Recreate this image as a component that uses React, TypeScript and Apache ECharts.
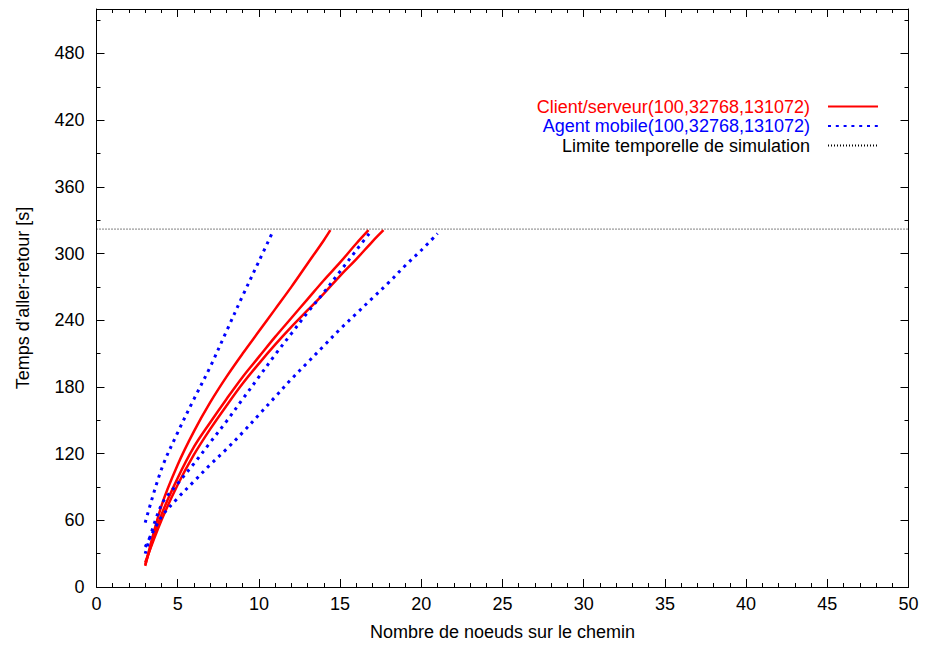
import React, { useEffect, useRef } from 'react';
import * as echarts from 'echarts';

const RED_NAME = 'Client/serveur(100,32768,131072)';
const BLUE_NAME = 'Agent mobile(100,32768,131072)';
const LIMIT_NAME = 'Limite temporelle de simulation';
const X_NAME = 'Nombre de noeuds sur le chemin';
const Y_NAME = "Temps d'aller-retour [s]";

const LIMIT = 322;

const redA: number[][] = [[3, 19], [4, 73], [5, 110], [6, 140], [7, 166], [8, 189], [9, 210], [10, 230], [11, 250], [12, 270], [13, 291], [14, 312], [14.4, 321]];
const redB: number[][] = [[3, 20], [4, 65], [5, 98], [6, 126], [7, 148], [8, 169], [9, 189], [10, 207], [11, 225], [12, 242], [13, 259], [14, 276], [15, 292], [16, 309], [16.75, 321]];
const redC: number[][] = [[3, 22], [4, 60], [5, 92], [6, 119], [7, 142], [8, 163], [9, 183], [10, 201], [11, 218], [12, 234], [13, 249], [14, 264], [15, 280], [16, 295], [17, 311], [17.67, 321]];

const blueL: number[][] = [[3, 58], [4, 106], [5, 139], [6, 169], [7, 198], [8, 230], [9, 262], [10, 293], [10.9, 321]];
const blueM: number[][] = [[3, 30], [4, 74], [5, 93], [6, 111], [7, 130], [8, 149], [9, 169], [10, 189], [11, 209], [12, 228], [13, 247], [14, 265], [15, 284], [16, 303], [16.9, 320]];
const blueR: number[][] = [[3, 36], [4, 63], [5, 80], [6, 95], [7, 110], [8, 124], [9, 139], [10, 155], [11, 171], [12, 187], [13, 202], [14, 217], [15, 232], [16, 246], [17, 260], [18, 274], [19, 289], [20, 303], [21, 318]];

const limitLine: number[][] = [[0, LIMIT], [50, LIMIT]];

export default function App() {
  const ref = useRef<HTMLDivElement>(null);
  useEffect(() => {
    const chart = echarts.init(ref.current!, null, { renderer: 'svg' });
    const font = '"Liberation Sans", Arial, Helvetica, sans-serif';
    const red = '#ff0000';
    const blue = '#0000ff';
    const black = '#000000';
    const fs = 18;

    const redLine = (data: number[][]) => ({
      type: 'line', name: RED_NAME, data, symbol: 'none', smooth: 0.35,
      lineStyle: { color: red, width: 2.5 }, itemStyle: { color: red }, z: 3,
    });
    const blueLine = (data: number[][]) => ({
      type: 'line', name: BLUE_NAME, data, symbol: 'none', smooth: 0.35,
      lineStyle: { color: blue, width: 3, type: [3, 4.8], cap: 'butt' }, itemStyle: { color: blue }, z: 4,
    });

    const tickCommon = {
      axisLine: { show: true, onZero: false, lineStyle: { color: black, width: 1 } },
      axisTick: { show: true, inside: true, length: 8, lineStyle: { color: black, width: 1 } },
      splitLine: { show: false },
    };

    chart.setOption({
      animation: false,
      backgroundColor: '#ffffff',
      grid: { left: 96.5, right: 16.5, top: 9, bottom: 58.3, containLabel: false },
      legend: {
        orient: 'vertical',
        right: 41,
        top: 92,
        align: 'right',
        itemWidth: 50,
        itemHeight: 12,
        itemGap: 0.5,
        selectedMode: false,
        itemStyle: { opacity: 0 },
        textStyle: { fontSize: fs, lineHeight: 19, fontFamily: font, padding: [0, 13, 0, 0] },
        data: [
          { name: RED_NAME, textStyle: { color: red } },
          { name: BLUE_NAME, textStyle: { color: blue } },
          { name: LIMIT_NAME, textStyle: { color: black } },
        ],
      },
      xAxis: [
        {
          type: 'value', min: 0, max: 50, interval: 5, position: 'bottom',
          ...tickCommon,
          minorTick: { show: true, splitNumber: 5, length: 4, lineStyle: { color: black, width: 1 } },
          axisLabel: { color: black, fontSize: fs, fontFamily: font, margin: 8 },
          name: X_NAME, nameLocation: 'middle', nameGap: 36,
          nameTextStyle: { color: black, fontSize: fs, fontFamily: font },
        },
        {
          type: 'value', min: 0, max: 50, interval: 5, position: 'top',
          ...tickCommon,
          minorTick: { show: true, splitNumber: 5, length: 4, lineStyle: { color: black, width: 1 } },
          axisLabel: { show: false },
        },
      ],
      yAxis: [
        {
          type: 'value', min: 0, max: 520, interval: 60, position: 'left',
          ...tickCommon,
          minorTick: { show: true, splitNumber: 2, length: 4, lineStyle: { color: black, width: 1 } },
          axisLabel: { color: black, fontSize: fs, fontFamily: font, margin: 12, showMaxLabel: false },
          name: Y_NAME, nameLocation: 'middle', nameGap: 65,
          nameTextStyle: { color: black, fontSize: fs, fontFamily: font },
        },
        {
          type: 'value', min: 0, max: 520, interval: 60, position: 'right',
          ...tickCommon,
          minorTick: { show: true, splitNumber: 2, length: 4, lineStyle: { color: black, width: 1 } },
          axisLabel: { show: false },
        },
      ],
      series: [
        {
          type: 'line', name: LIMIT_NAME, data: limitLine, symbol: 'none',
          lineStyle: { color: black, width: 1, type: [1, 2] }, itemStyle: { color: black }, z: 2,
        },
        redLine(redA),
        redLine(redB),
        redLine(redC),
        blueLine(blueL),
        blueLine(blueM),
        blueLine(blueR),
      ],
    });
    return () => chart.dispose();
  }, []);
  return <div ref={ref} style={{ position: 'absolute', left: 0, top: 0, width: 925, height: 646 }} />;
}
